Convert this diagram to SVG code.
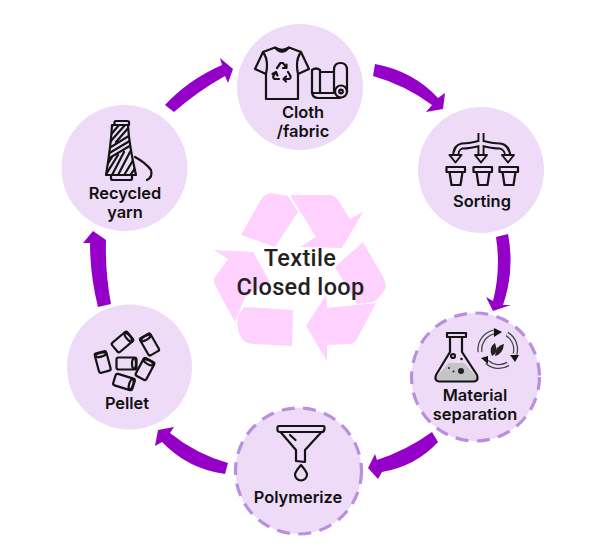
<svg xmlns="http://www.w3.org/2000/svg" width="600" height="555" viewBox="0 0 600 555">
<defs>
<style>
.c{fill:#eddbf8}
.d{stroke:#b98fe0;stroke-width:3.2;stroke-dasharray:13 8.5}
.a{fill:#9500c9}
.r{fill:#ffd1ff}
.i{fill:none;stroke:#141414;stroke-width:2.200;stroke-linecap:round;stroke-linejoin:round}
.t{font-family:"Inter","Liberation Sans",sans-serif;font-weight:600;font-size:16.400px;fill:#111;text-anchor:middle}
.h{font-family:"Roboto","Liberation Sans",sans-serif;font-weight:500;font-size:23.500px;letter-spacing:.35px;fill:#222;text-anchor:middle}
.o{fill:none;stroke:#141414;stroke-width:7;stroke-linejoin:round}
.n{fill:none;stroke:#eddbf8;stroke-width:3.200;stroke-linejoin:round}
.g{fill:#eddbf8;stroke:#141414;stroke-width:2;stroke-linejoin:round}
</style>
<g id="pel"><rect x="-10" y="-6" width="20" height="12" rx="2" class="i" stroke-width="2.500"/><ellipse cx="7.500" cy="0" rx="2" ry="5.500" class="i" stroke-width="1.800"/></g>
<clipPath id="spool"><path d="M112 125H128Q129 145 136 175H106Q111 145 112 125Z"/></clipPath>
</defs>

<g id="center-symbol">
<path class="r" d="M241 235L262 198Q266 193 272 193L288 196L298 212L275 247Z"/>
<path class="r" d="M290 195H330Q335 196 338 200L350 219L363 212L342 248L300 247L316 237Z"/>
<path class="r" d="M363 242L383 277Q387 284 385 289Q380 298 373 302L357 304L335 267Z"/>
<path class="r" d="M376 303L358 337Q355 343 350 344L327 345L327 361L306 326L326 295L327 308Z"/>
<path class="r" d="M244 307L293 310L292 346L255 344Q247 344 243 340Q238 333 238 328Q237 322 238 316Z"/>
<path class="r" d="M214 250L253 252L270 282L245 297L235 322L215 285Q213 281 215 277L228 259Z"/>
<text class="h" x="300" y="266">Textile</text>
<text class="h" x="300.500" y="295">Closed loop</text>
</g>

<g id="connectors">
<path class="a" d="M165 105Q188 80 222 65L220 58L233 69L228 83L225 76Q198 91 174 112Z"/>
<path class="a" d="M375 64Q413 71 438 98L445 93L443 109L426 112L432 105Q405 85 373 76Z"/>
<path class="a" d="M496 237L508 234Q515 270 503 305L511 305L493 311L486 297L493 301Q501 270 496 237Z"/>
<path class="a" d="M432 432L438 442Q416 466 382 472L378 479L368 468L375 454L377 460Q407 450 432 432Z"/>
<path class="a" d="M228 463L225 474Q188 469 162 442L155 446L158 430L174 427L170 433Q196 454 228 463Z"/>
<path class="a" d="M98 307L111 304Q105 272 106 240L106 240L93 231L83 243L90 243Q90 275 98 307Z"/>
</g>

<g id="cloth">
<circle class="c" cx="300" cy="87" r="63"/>
<path class="i" d="M275 47.500L263 52L255 69L266 74V99H298V74L309 69L301 52L289 47.500Q282 52 275 47.500ZM263 52Q269 60 266 74M301 52Q295 60 298 74M275 47.500Q282 56 289 47.500"/>
<path class="i" stroke-width="1.700" d="M277 68L280.500 63H283L286 67.500M286.500 64.500V68H283M288 72L290.500 76Q291 79 288.500 79H284M286 76.500L283.500 79L286 81.500M279 79H274.500Q272.500 78 273.500 76L275.500 72.500M272.500 74L276 72L277.500 75.500"/>
<path class="i" d="M320 72H334M320 93H334M312 70Q316 67 320 70V93H312ZM312 93Q313 98 318 98H340M334 92V70Q334 63 340.500 63T347 70V92"/>
<circle class="i" cx="341" cy="91.500" r="6"/><circle class="i" cx="341" cy="91.500" r="1.800"/>
<text class="t"><tspan x="303" y="118">Cloth</tspan><tspan x="303" y="137">/fabric</tspan></text>
</g>

<g id="sorting">
<circle class="c" cx="481" cy="170" r="63"/>
<path class="o" d="M481 133V156M481 143Q470 146 462 146Q456 147 455.500 156M481 143Q492 146 500 146Q507 147 508 156"/>
<path class="n" d="M481 133V158M481 143Q470 146 462 146Q456 147 455.500 158M481 143Q492 146 500 146Q507 147 508 158"/>
<path class="g" d="M449.500 155H461.500L455.500 162.500ZM475 155H487L481 162.500ZM502 155H514L508 162.500Z"/>
<path class="i" d="M446.500 167H465V172H446.500ZM449.500 172L451.500 185H460.500L462.500 172"/>
<path class="i" d="M473.500 167H492V172H473.500ZM476.500 172L478.500 185H487.500L489.500 172"/>
<path class="i" d="M499.500 167H518V172H499.500ZM502.500 172L504.500 185H513.500L515.500 172"/>
<text class="t" x="482" y="207">Sorting</text>
</g>

<g id="material-separation">
<circle class="c d" cx="475.500" cy="377" r="64"/>
<path d="M449 363L437 376Q435 381 439 381H474Q478 381 476 376L464 363Z" fill="#c4c4c4"/>
<path class="i" d="M447 333H466V337H447ZM450 337V352L436 375Q434 381 439 381.500H474Q479 381 477 375L462 352V337"/>
<circle cx="453" cy="356" r="2" class="i" stroke-width="1.300"/><circle cx="461.500" cy="359" r="1.300" fill="#222"/><circle cx="461" cy="371" r="3" fill="#222"/><circle cx="449" cy="368" r="1" fill="#222"/><circle cx="453.500" cy="371.500" r="1" fill="#222"/>
<path d="M480 352A18 18 0 0 1 494 332M507 334A18 18 0 0 1 515 354M508 364A18 18 0 0 1 487 362" fill="none" stroke="#444" stroke-width="5"/>
<path d="M480 352A18 18 0 0 1 494 332M507 334A18 18 0 0 1 515 354M508 364A18 18 0 0 1 487 362" fill="none" stroke="#eddbf8" stroke-width="2.500"/>
<path d="M494 328L502 332L494 337ZM510 355H519L515 362ZM488 356L481 358L488 364Z" fill="#111"/>
<path d="M495 343Q488 347 492 356Q499 353 495 343ZM504 344Q496 345 495 356Q503 354 504 344Z" fill="#222"/>
<text class="t"><tspan x="475" y="401">Material</tspan><tspan x="475" y="420">separation</tspan></text>
</g>

<g id="polymerize">
<circle class="c d" cx="298.500" cy="471" r="63"/>
<path class="i" d="M279 426H323Q325 426 324.500 429Q324 432 322 432H280Q277 432 277.500 429Q277 426 279 426ZM280.500 432L296 450V461L305 462V450L321.500 432M290 435L295.500 440"/>
<path class="i" d="M301 465Q295 472 295 474.500A6 6 0 0 0 307 474.500Q307 472 301 465Z"/>
<text class="t" x="298" y="503">Polymerize</text>
</g>

<g id="pellet">
<circle class="c" cx="129.500" cy="367" r="62.500"/>
<use href="#pel" transform="translate(122.500 342) rotate(-40)"/>
<use href="#pel" transform="translate(149.500 344.500) rotate(240)"/>
<use href="#pel" transform="translate(102.700 362) rotate(255)"/>
<use href="#pel" transform="translate(126.500 363.500)"/>
<use href="#pel" transform="translate(145 369) rotate(-62)"/>
<use href="#pel" transform="translate(124 382) rotate(17)"/>
<text class="t" x="127" y="409">Pellet</text>
</g>

<g id="recycled-yarn">
<circle class="c" cx="124.500" cy="168" r="63"/>
<path class="i" d="M114.500 125V122Q114.500 121 116 121H127Q129 121 129 122V125M111 175V178.500Q111 180 113 180H130Q132 180 132 178.500V175"/>
<path class="i" d="M112 125H128Q129 145 136 175H106Q111 145 112 125Z"/>
<g clip-path="url(#spool)"><path class="i" stroke-width="1.500" d="M108 132L113 125M108 138L119 125M110 142L125 125M116 142L130 126M104 170L112 157M105 176L118 155M111 177L124 152M117 177L130 152M123 177L135 157M129 177L138 164M106 155L133 139M106 150L132 134M106 160L133 144"/></g>
<path class="i" d="M135 157Q146 163 151 170Q153 177 147 180" stroke-width="1.700"/>
<text class="t"><tspan x="125" y="199">Recycled</tspan><tspan x="125" y="218">yarn</tspan></text>
</g>
</svg>
